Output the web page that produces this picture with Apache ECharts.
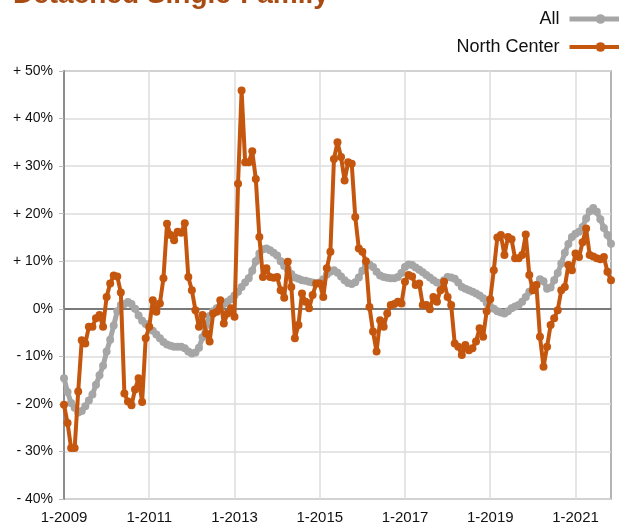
<!DOCTYPE html>
<html>
<head>
<meta charset="utf-8">
<script src="https://cdn.jsdelivr.net/npm/echarts@6/dist/echarts.min.js"></script>
<style>
  html, body { margin: 0; padding: 0; background: #fff; }
  #main { width: 619px; height: 526px; }
</style>
</head>
<body>
<div id="main"></div>
<script>
// monthly, 1-2009 .. 11-2021
var startYear = 2009;
var monthCount = 155;
var months = [];
for (var k = 0; k < monthCount; k++) {
  months.push((k % 12 + 1) + '-' + (startYear + Math.floor(k / 12)));
}

var yTicks = ['- 40%', '- 30%', '- 20%', '- 10%', '0%', '+ 10%', '+ 20%', '+ 30%', '+ 40%', '+ 50%'];

// year-over-year change, %
var allValues = [
  -14.6, -17.5, -19.8, -20.8, -21.8, -21.5, -20.5, -19.3, -18.0, -16.0, -14.0, -12.0,
  -9.0, -6.5, -3.5, -0.5, 0.8, 1.0, 1.4, 1.0, 0.0, -1.4, -2.5, -3.2,
  -4.0, -4.6, -5.4, -6.2, -7.0, -7.5, -7.8, -8.0, -8.0, -8.0, -8.3, -9.0,
  -9.4, -9.2, -8.2, -6.0, -3.5, -1.5, -0.5, 0.1, 0.5, 1.0, 1.5, 2.0,
  2.8, 3.6, 4.6, 5.5, 6.4, 8.0, 10.0, 11.6, 12.5, 12.7, 12.3, 11.8,
  11.2, 10.0, 9.0, 8.3, 7.3, 6.6, 6.3, 6.0, 5.9, 5.7, 5.5, 5.3,
  5.5, 6.2, 7.2, 7.8, 8.1, 7.6, 6.8, 6.0, 5.4, 5.2, 5.6, 6.6,
  8.0, 9.0, 9.3, 8.8, 7.8, 7.0, 6.7, 6.5, 6.4, 6.4, 6.7, 7.5,
  8.8, 9.3, 9.2, 8.7, 8.2, 7.7, 7.1, 6.6, 6.0, 5.5, 5.3, 6.0,
  6.7, 6.6, 6.3, 5.5, 4.6, 4.2, 3.9, 3.6, 3.2, 2.8, 2.2, 1.2,
  0.5, 0.0, -0.5, -0.8, -1.0, -0.5, 0.1, 0.5, 0.8, 1.5, 2.5, 3.6,
  4.5, 5.0, 6.2, 5.8, 4.2, 4.5, 6.0, 7.5, 9.5, 11.8, 13.6, 15.1,
  15.8, 16.2, 17.2, 19.0, 20.5, 21.2, 20.4, 18.8, 17.0, 15.5, 13.7
];

var northCenterValues = [
  -20.2, -24.0, -29.3, -29.3, -17.4, -6.6, -7.3, -3.8, -3.8, -2.0, -1.3, -3.8,
  2.5, 5.3, 7.0, 6.8, 3.4, -17.8, -19.5, -20.3, -17.0, -14.6, -19.6, -6.2,
  -3.8, 1.8, -0.6, 1.1, 6.4, 17.9, 15.5, 14.4, 16.2, 16.0, 18.0, 6.7,
  3.9, -0.3, -3.8, -1.3, -5.2, -6.9, -1.0, -0.6, 1.8, -3.1, -1.0, 0.1,
  -1.7, 26.3, 45.9, 30.8, 30.8, 33.1, 27.3, 15.1, 6.7, 8.5, 6.7, 6.5,
  6.7, 3.9, 2.3, 9.9, 4.6, -6.2, -3.4, 3.2, 1.5, 0.1, 2.9, 5.3,
  5.3, 2.5, 8.5, 12.0, 31.5, 35.0, 31.9, 27.0, 30.8, 30.5, 19.3, 12.7,
  12.0, 10.0, 0.4, -4.8, -9.0, -2.4, -3.8, -1.0, 0.8, 1.0, 1.5, 1.1,
  5.7, 7.1, 6.8, 5.0, 5.3, 0.8, 0.8, -0.1, 2.5, 1.5, 3.9, 5.7,
  2.5, 0.8, -7.3, -8.0, -9.7, -7.6, -8.7, -8.3, -6.9, -4.1, -5.9, -0.5,
  2.0, 8.1, 15.0, 15.5, 11.3, 15.1, 14.6, 10.6, 10.6, 11.3, 15.6, 7.1,
  3.9, 5.0, -5.9, -12.2, -8.0, -3.4, -2.0, -0.3, 3.9, 4.6, 9.2, 8.1,
  11.6, 10.9, 14.0, 16.9, 11.3, 11.0, 10.6, 10.4, 10.9, 7.8, 6.0
];

var allColor = '#a6a6a6';
var ncColor = '#c5560e';
var font = 'Liberation Sans, Arial, Helvetica, sans-serif';

var chart = echarts.init(document.getElementById('main'));
chart.setOption({
  animation: false,
  title: {
    text: 'Detached Single-Family',
    left: 8,
    top: -24,
    textStyle: { color: '#a84c14', fontSize: 28, fontWeight: 'bold', fontFamily: font }
  },
  legend: {
    orient: 'vertical',
    right: -20,
    top: 5,
    align: 'right',
    itemWidth: 62,
    itemHeight: 12,
    itemGap: 10,
    textStyle: { fontSize: 18, color: '#111', fontFamily: font },
    formatter: function (name) { return name + ' '; },
    data: [
      { name: 'All', lineStyle: { width: 5 } },
      { name: 'North Center', lineStyle: { width: 4 } }
    ]
  },
  grid: {
    left: 64,
    right: 8,
    top: 71,
    bottom: 27,
    show: true,
    borderColor: '#9a9a9a',
    borderWidth: 1.5,
    containLabel: false
  },
  xAxis: {
    type: 'category',
    data: months,
    boundaryGap: false,
    axisLine: { lineStyle: { color: '#8c8c8c', width: 1.5 } },
    axisTick: { show: false },
    axisLabel: {
      interval: 23,
      margin: 11,
      color: '#111',
      fontSize: 15,
      fontFamily: font
    },
    splitLine: { show: true, interval: 23, lineStyle: { color: '#dcdcdc', width: 1.5 } }
  },
  yAxis: {
    type: 'value',
    min: -40,
    max: 50,
    interval: 10,
    axisLine: { show: true, lineStyle: { color: '#8c8c8c', width: 2 } },
    axisTick: { show: true, length: 5, lineStyle: { color: '#bbb' } },
    axisLabel: {
      margin: 11,
      color: '#111',
      fontSize: 14,
      fontFamily: font,
      formatter: function (v) { return yTicks[Math.round((v + 40) / 10)]; }
    },
    splitLine: { lineStyle: { color: '#dcdcdc', width: 1.5 } }
  },
  series: [
    {
      name: 'All',
      type: 'line',
      data: allValues,
      symbol: 'circle',
      symbolSize: 8,
      showAllSymbol: true,
      lineStyle: { color: allColor, width: 5 },
      itemStyle: { color: allColor },
      z: 2,
      markLine: {
        silent: true,
        symbol: 'none',
        label: { show: false },
        lineStyle: { color: '#7a7a7a', width: 2, type: 'solid' },
        data: [{ yAxis: 0 }],
        z: 1
      }
    },
    {
      name: 'North Center',
      type: 'line',
      data: northCenterValues,
      symbol: 'circle',
      symbolSize: 8,
      showAllSymbol: true,
      lineStyle: { color: ncColor, width: 4 },
      itemStyle: { color: ncColor },
      z: 3
    }
  ]
});
</script>
</body>
</html>
